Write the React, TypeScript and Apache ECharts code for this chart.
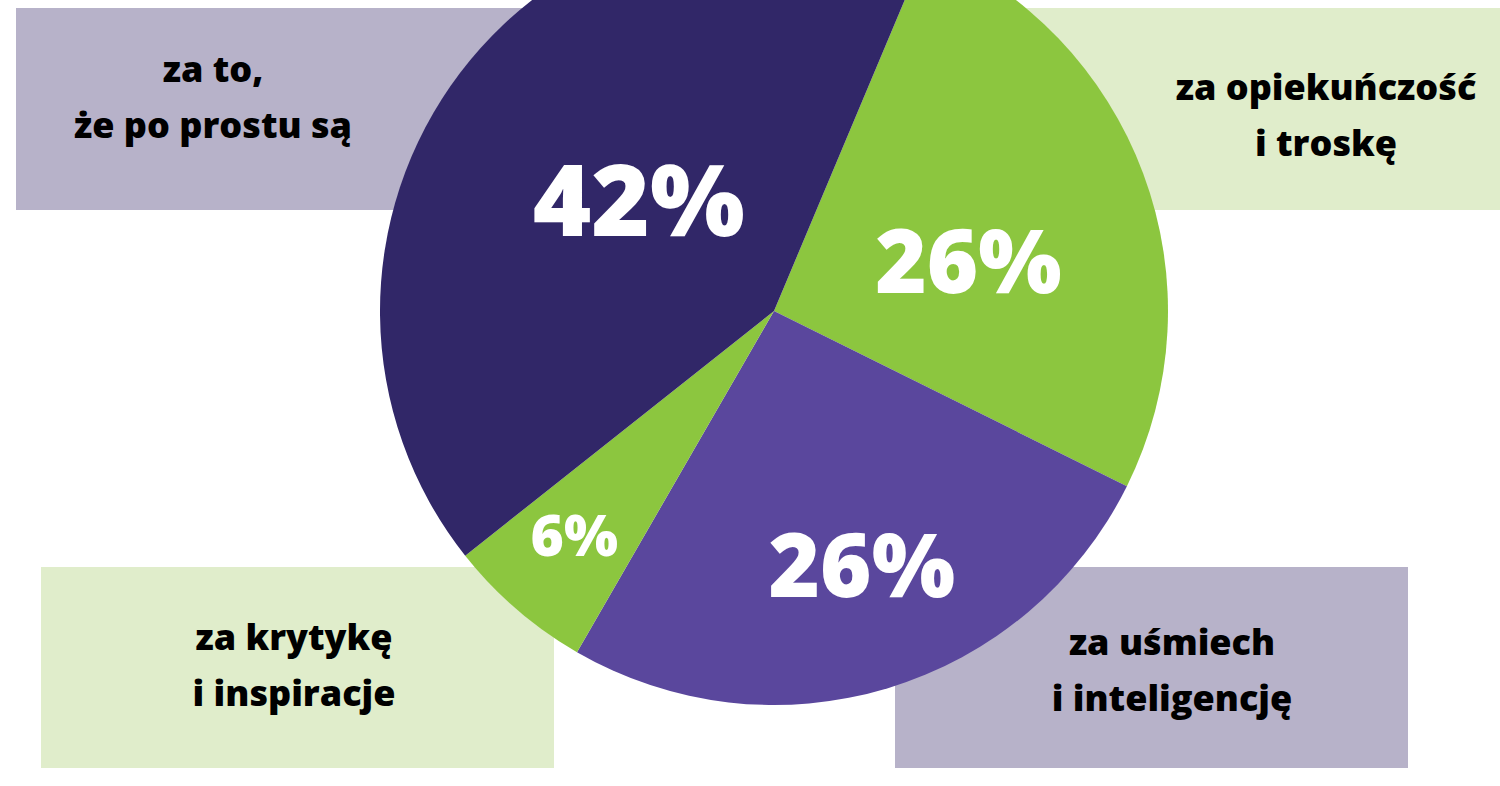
import React, { useEffect, useRef } from "react";
import * as echarts from "echarts";

// Data
const categories = [
  "za opiekuńczość\ni troskę",
  "za uśmiech\ni inteligencję",
  "za krytykę\ni inspiracje",
  "za to,\nże po prostu są",
];
const values = [26, 26, 6, 42];

// Styles (kept apart from data)
const sliceColors = ["#8cc63f", "#5a479d", "#8cc63f", "#312768"];
const boxColors = ["#e0edcb", "#b7b2c9", "#e0edcb", "#b7b2c9"];
const percentSizes = [88, 88, 57, 100];
const percentShift = [
  [7, 18],
  [30, 61],
  [-69, 72],
  [24, 7],
];
// box rects [x, y, w, h] and text anchor [x, y] per category
const boxRects = [
  [987, 8, 520, 202],
  [895, 567, 513, 201],
  [41, 567, 513, 201],
  [16, 8, 513, 202],
];
const textAnchors = [
  [1326, 114],
  [1172, 669],
  [294, 664],
  [213, 96],
];

const FONT = '"Open Sans", "DejaVu Sans", sans-serif';

export default function App() {
  const ref = useRef<HTMLDivElement>(null);
  useEffect(() => {
    document.body.style.margin = "0";
    if (!ref.current) return;
    const chart = echarts.init(ref.current, undefined, { renderer: "svg" });
    const graphics: any[] = [];
    categories.forEach((c, i) => {
      const [x, y, w, h] = boxRects[i];
      graphics.push({
        type: "rect",
        z: 0,
        shape: { x, y, width: w, height: h },
        style: { fill: boxColors[i] },
      });
      graphics.push({
        type: "text",
        z: 1,
        x: textAnchors[i][0],
        y: textAnchors[i][1],
        style: {
          text: c,
          fill: "#000000",
          font: `800 36px ${FONT}`,
          fontFamily: FONT,
          fontWeight: 800,
          fontSize: 36,
          lineHeight: 56,
          align: "center",
          verticalAlign: "middle",
        },
      });
    });
    chart.setOption({
      animation: false,
      backgroundColor: "#ffffff",
      graphic: { elements: graphics },
      series: [
        {
          type: "pie",
          z: 5,
          center: [774, 311],
          radius: [0, 394],
          startAngle: 67.2,
          clockwise: true,
          avoidLabelOverlap: false,
          silent: true,
          labelLine: { show: false },
          itemStyle: { borderWidth: 0 },
          label: {
            show: true,
            position: "inside",
            formatter: "{c}%",
            color: "#ffffff",
            fontFamily: FONT,
            fontWeight: 800,
          },
          labelLayout: (p: any) => ({
            dx: percentShift[p.dataIndex][0],
            dy: percentShift[p.dataIndex][1],
          }),
          data: values.map((v, i) => ({
            value: v,
            name: categories[i],
            itemStyle: { color: sliceColors[i] },
            label: { fontSize: percentSizes[i] },
          })),
        },
      ],
    });
    return () => chart.dispose();
  }, []);
  return <div ref={ref} style={{ width: 1500, height: 786 }} />;
}
